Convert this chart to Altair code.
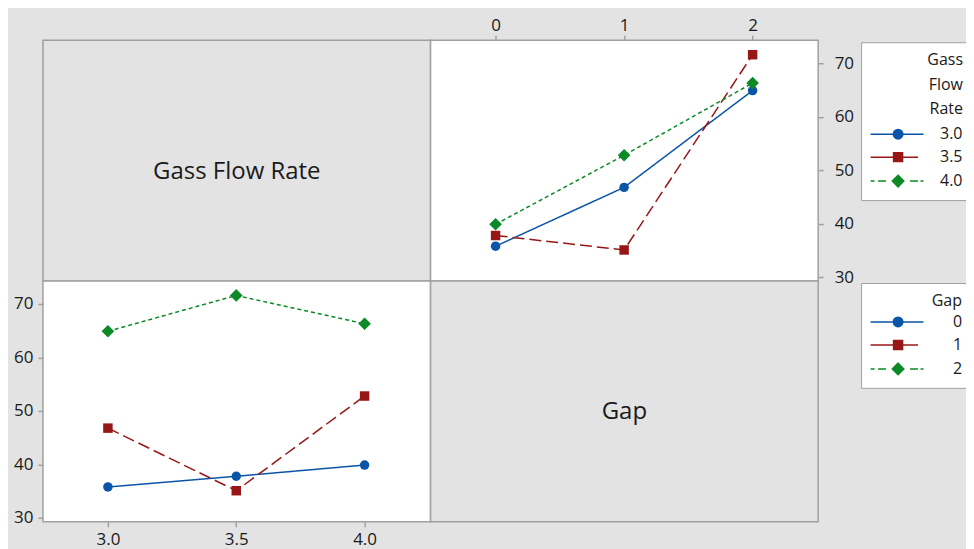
import altair as alt
import pandas as pd

# ---- data (cell means) ----
gap_levels = [0, 1, 2]
gfr_levels = [3.0, 3.5, 4.0]
gap_labels = ["0", "1", "2"]
gfr_labels = ["3.0", "3.5", "4.0"]
# mean response at Gap 0, 1, 2 for each Gass Flow Rate
means_gfr_3_0 = [35.8, 46.8, 64.9]
means_gfr_3_5 = [37.8, 35.1, 71.6]
means_gfr_4_0 = [39.9, 52.8, 66.3]
factor_names = ["Gass Flow Rate", "Gap"]
y_ticks = [30, 40, 50, 60, 70]

# ---- styles ----
series_colors = ["#0a55a8", "#971717", "#0b8a25"]
series_dashes = [[1, 0], [12, 5], [4, 3]]
series_shapes = ["circle", "square", "M0,-1L1,0L0,1L-1,0Z"]
series_sizes = [90, 90, 160]
legend_paths = [
    "M-5.5,0H5.1M0.95,0A0.95,0.95,0,1,1,-0.95,0A0.95,0.95,0,1,1,0.95,0Z",
    "M-5.5,0H-0.9M0.9,0H4.0M-0.9,-0.9H0.9V0.9H-0.9Z",
    "M-5.5,0H-4.7M-4.0,0H-2.4M2.4,0H4.0M4.5,0H5.1M0,-1.15L1.15,0L0,1.15L-1.15,0Z",
]
GREY = "#e3e3e3"
BORDER = "#a0a0a0"
FONT = "Open Sans"
TXT = "#1a1a1a"
W, H = 388, 241
Y_DOM = [29.3, 74.3]

rows = []
for i, vals in enumerate([means_gfr_3_0, means_gfr_3_5, means_gfr_4_0]):
    for j, v in enumerate(vals):
        rows.append({"gfr": gfr_levels[i], "gap": gap_levels[j],
                     "gfr_label": gfr_labels[i], "gap_label": gap_labels[j], "mean": v})
df = pd.DataFrame(rows)


def axis(orient, values, fmt, tick, pad):
    return alt.Axis(orient=orient, values=values, format=fmt, title=None, grid=False,
                    domain=False, tickColor=BORDER, tickSize=tick, tickWidth=1.5,
                    labelFont=FONT, labelFontSize=17, labelColor=TXT, labelPadding=pad)


def plot_panel(x_field, x_dom, x_vals, x_fmt, x_orient, y_orient, ser, ser_levels,
               ser_labels, leg_title, leg_x, leg_y, lab_off, title_pad):
    x = alt.X(f"{x_field}:Q", scale=alt.Scale(domain=x_dom, nice=False, zero=False),
              axis=axis(x_orient, x_vals, x_fmt, 5, 1 if x_orient == "top" else 5))
    y = alt.Y("mean:Q", scale=alt.Scale(domain=Y_DOM, nice=False, zero=False),
              axis=axis(y_orient, y_ticks, "d", 5, 11 if y_orient == "right" else 5))
    base = alt.Chart(df)
    color = alt.Color(f"{ser}:N", scale=alt.Scale(domain=ser_levels, range=series_colors), legend=None)
    lines = base.mark_line(strokeWidth=1.5).encode(
        x=x, y=y, color=color,
        strokeDash=alt.StrokeDash(f"{ser}:N", scale=alt.Scale(domain=ser_levels, range=series_dashes), legend=None),
    )
    pts = [
        base.transform_filter(alt.FieldEqualPredicate(field=ser, equal=ser_levels[k])).mark_point(
            filled=True, opacity=1, shape=series_shapes[k], size=series_sizes[k]
        ).encode(x=x, y=y, color=color)
        for k in range(3)
    ]
    leg_field = f"{ser}_label"
    leg = alt.Legend(title=leg_title, orient="none", legendX=leg_x, legendY=leg_y,
                     symbolSize=100, symbolStrokeWidth=1.5, symbolOffset=19,
                     labelOffset=lab_off, labelFont=FONT, labelFontSize=16, labelColor=TXT,
                     titleFont=FONT, titleFontSize=16, titleFontWeight="normal", titleColor=TXT,
                     titleAnchor="end", titleAlign="right", titleLineHeight=24.5,
                     titlePadding=title_pad, rowPadding=7, padding=10,
                     strokeColor=BORDER, fillColor="white")
    legend_layer = base.mark_point(filled=True, opacity=1, strokeWidth=1.5).encode(
        x=x, y=y,
        fill=alt.Fill(f"{leg_field}:N", scale=alt.Scale(domain=ser_labels, range=series_colors), legend=leg),
        stroke=alt.Stroke(f"{leg_field}:N", scale=alt.Scale(domain=ser_labels, range=series_colors), legend=leg),
        shape=alt.Shape(f"{leg_field}:N", scale=alt.Scale(domain=ser_labels, range=legend_paths), legend=leg),
    ).transform_filter(alt.datum.mean < 0)
    return alt.layer(lines, *pts, legend_layer).properties(
        width=W, height=H, view=alt.ViewBackground(fill="white", stroke=BORDER, strokeWidth=1.5))


def name_panel(name):
    return alt.Chart(pd.DataFrame({"name": [name]})).mark_text(
        font=FONT, fontSize=24, color=TXT, baseline="middle", align="center"
    ).encode(text="name:N", x=alt.value(W / 2), y=alt.value(H / 2 + 11)).properties(
        width=W, height=H, view=alt.ViewBackground(fill=GREY, stroke=BORDER, strokeWidth=1.5))


tl = name_panel(factor_names[0])
tr = plot_panel("gap", [-0.506, 2.51], gap_levels, "d", "top", "right",
                "gfr", gfr_levels, gfr_labels, ["Gass", "Flow", "Rate"], 431, 2, 34, 9)
bl = plot_panel("gfr", [2.747, 4.257], gfr_levels, ".1f", "bottom", "left",
                "gap", gap_levels, gap_labels, "Gap", 819, 2, 47, 5)
br = name_panel(factor_names[1])

chart = alt.concat(tl, tr, bl, br, columns=2, spacing=0, bounds="flush").resolve_scale(
    color="independent", fill="independent", stroke="independent",
    shape="independent", strokeDash="independent",
).resolve_legend(
    color="independent", fill="independent", stroke="independent",
    shape="independent", strokeDash="independent",
).properties(
    background=GREY, padding={"left": 4, "top": 7, "right": -9, "bottom": 0}
).configure_view(stroke=BORDER, strokeWidth=1.5)

chart.save("out.html", embed_options={"renderer": "svg", "actions": False})
